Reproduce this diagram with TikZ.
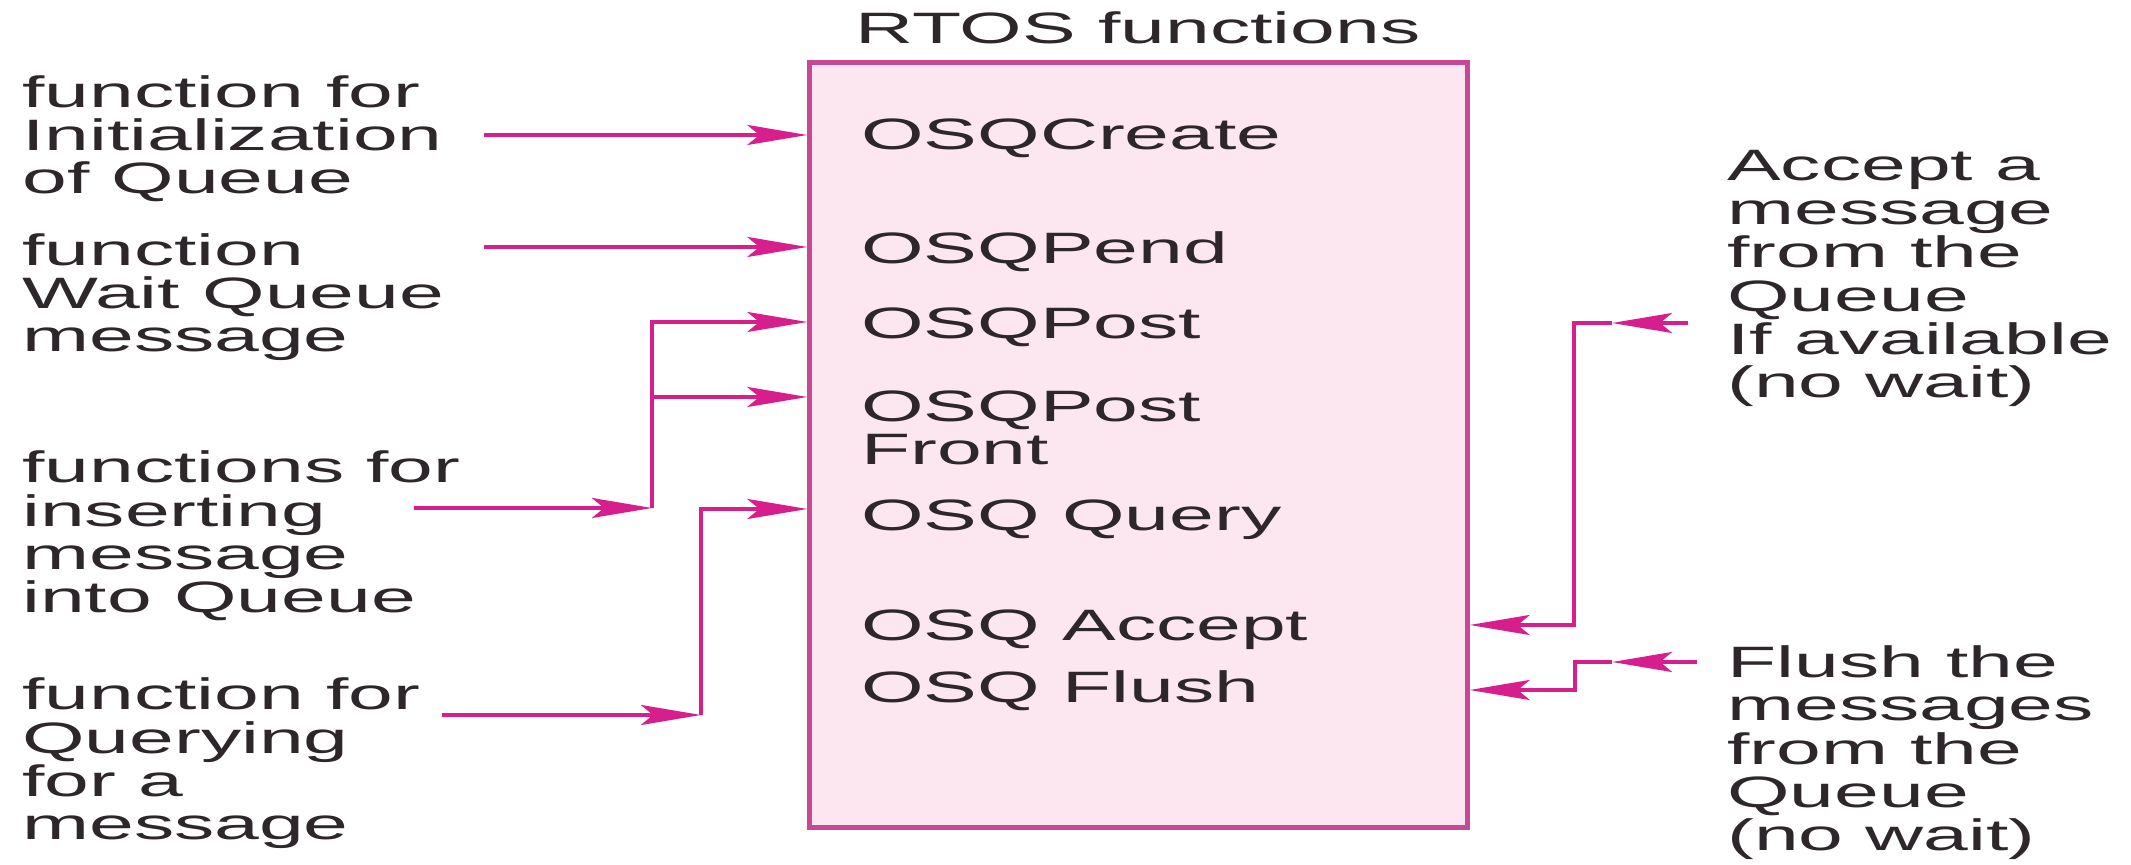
\documentclass[tikz,border=0pt]{standalone}
\usepackage{fontspec}
\setmainfont{Liberation Sans}
\usetikzlibrary{arrows.meta}
\definecolor{qpink}{RGB}{214,30,140}
\definecolor{qedge}{RGB}{200,72,150}
\definecolor{qfill}{RGB}{252,231,240}
\definecolor{qtext}{RGB}{45,38,42}

\begin{document}
\begin{tikzpicture}[x=0.01cm,y=-0.01cm,
    txt/.style={font=\fontsize{12.5}{12.35}\selectfont,xscale=1.83,inner sep=0pt,align=left,anchor=base west,text=qtext},
    arr/.style={qpink,line width=1.1pt,-{Stealth[length=6mm,width=2mm,inset=1.2mm]}}]
  \useasboundingbox (0,0) rectangle (2131,865);
  \node[draw=qedge,fill=qfill,line width=1.4pt,minimum width=6.57cm,minimum height=7.64cm,inner sep=0pt] (box) at (1138.5,445) {};
  \node[txt,anchor=base] (title) at (1138,44) {RTOS functions};
  \node[txt] (create) at (860,150) {OSQCreate};
  \node[txt] (pend) at (860,264) {OSQPend};
  \node[txt] (post) at (860,339) {OSQPost};
  \node[txt] (front) at (860,465) {OSQPost\\Front};
  \node[txt] (query) at (860,531) {OSQ Query};
  \node[txt] (accept) at (860,641) {OSQ Accept};
  \node[txt] (flush) at (860,703) {OSQ Flush};
  \node[txt] (lblinit) at (21,194) {function for\\Initialization\\of Queue};
  \node[txt] (lblwait) at (21,352) {function\\Wait Queue\\message};
  \node[txt] (lblins) at (21,613) {functions for\\inserting\\message\\into Queue};
  \node[txt] (lblquery) at (21,840) {function for\\Querying\\for a\\message};
  \node[txt] (lblacc) at (1726,398) {Accept a\\message\\from the\\Queue\\If available\\(no wait)};
  \node[txt] (lblflush) at (1726,851) {Flush the\\messages\\from the\\Queue\\(no wait)};
  \coordinate (in1) at (484,135);
  \coordinate (in2) at (484,247);
  \coordinate (in3) at (414,508);
  \coordinate (j3) at (652,508);
  \coordinate (p1) at (652,322);
  \coordinate (p2) at (652,397);
  \coordinate (in4) at (442,715);
  \coordinate (j4) at (701,715);
  \coordinate (q1) at (701,509);
  \coordinate (acc0) at (1688,323);
  \coordinate (acc1) at (1612,323);
  \coordinate (acc2) at (1574,323);
  \coordinate (acc3) at (1574,625);
  \coordinate (fl0) at (1697,662);
  \coordinate (fl1) at (1612,662);
  \coordinate (fl2) at (1575,662);
  \coordinate (fl3) at (1575,690);
  \draw[arr] (in1) -- (in1 -| box.west);
  \draw[arr] (in2) -- (in2 -| box.west);
  \draw[arr] (in3) -- (j3);
  \draw[arr] (j3) -- (p1) -- (p1 -| box.west);
  \draw[arr] (p2) -- (p2 -| box.west);
  \draw[arr] (in4) -- (j4);
  \draw[arr] (j4) -- (q1) -- (q1 -| box.west);
  \draw[arr] (acc0) -- (acc1);
  \draw[arr] (acc1) -- (acc2) -- (acc3) -- (acc3 -| box.east);
  \draw[arr] (fl0) -- (fl1);
  \draw[arr] (fl1) -- (fl2) -- (fl3) -- (fl3 -| box.east);
\end{tikzpicture}
\end{document}
